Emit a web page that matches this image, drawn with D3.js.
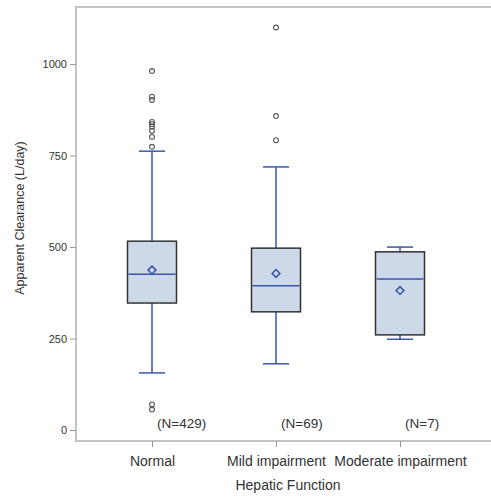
<!DOCTYPE html>
<html>
<head>
<meta charset="utf-8">
<script src="https://cdn.jsdelivr.net/npm/d3@7"></script>
<style>
  body { margin: 0; background: #fff; }
  svg { display: block; }
  svg text { font-family: "Liberation Sans", Arial, sans-serif; }
</style>
</head>
<body>
<div id="chart"></div>
<script>
// box plot summaries
const categories = ["Normal", "Mild impairment", "Moderate impairment"];
const q1 = [347, 323, 260];
const medians = [426, 394, 413];
const q3 = [516, 497, 487];
const whiskerLow = [156, 181, 248];
const whiskerHigh = [762, 719, 500];
const means = [437, 428, 381];
const outliers = [
    [981, 911, 902, 842, 836, 829, 818, 801, 774, 70, 56],
    [1100, 858, 792],
    []
];
const nLabels = ["(N=429)", "(N=69)", "(N=7)"];
const yTicks = [0, 250, 500, 750, 1000];

const width = 491, height = 497;
const plot = { left: 76, right: 500, top: 7, bottom: 441 };

const svg = d3.select("#chart").append("svg")
    .attr("width", width)
    .attr("height", height);

const x = d3.scalePoint()
    .domain(categories)
    .range([152, 400]);

const y = d3.scaleLinear()
    .domain([-30, 1156])
    .range([plot.bottom, plot.top]);

const blue = "#3a56a8";
const boxW = 49, capW = 26;

// frame (left, top, bottom)
svg.append("path")
    .attr("d", `M${plot.right},${plot.top}H${plot.left}V${plot.bottom}H${plot.right}`)
    .attr("fill", "none")
    .attr("stroke", "#b0b0b0")
    .attr("stroke-width", 1.5);

// y axis
const yAxis = svg.append("g")
    .attr("transform", `translate(${plot.left},0)`)
    .call(d3.axisLeft(y).tickValues(yTicks).tickFormat(d3.format("d")).tickSize(6).tickPadding(3))
    .attr("font-family", null);
yAxis.select(".domain").remove();
yAxis.selectAll("line").attr("stroke", "#999");
yAxis.selectAll("text").attr("fill", "#333").style("font-size", "11px");

// x axis
const xAxis = svg.append("g")
    .attr("transform", `translate(0,${plot.bottom})`)
    .call(d3.axisBottom(x).tickSize(6).tickPadding(9))
    .attr("font-family", null);
xAxis.select(".domain").remove();
xAxis.selectAll("line").attr("stroke", "#999");
xAxis.selectAll("text").attr("fill", "#333").style("font-size", "14px");

// axis titles
svg.append("text")
    .attr("x", 288)
    .attr("y", 490)
    .attr("text-anchor", "middle")
    .attr("fill", "#333")
    .style("font-size", "14px")
    .text("Hepatic Function");

svg.append("text")
    .attr("transform", "translate(24,218) rotate(-90)")
    .attr("text-anchor", "middle")
    .attr("fill", "#333")
    .style("font-size", "12.5px")
    .text("Apparent Clearance (L/day)");

const groups = svg.selectAll(".box")
    .data(categories)
    .join("g")
    .attr("class", "box");

groups.each(function(c, i) {
    const g = d3.select(this);
    const cx = x(c);

    // whiskers
    g.append("line")
        .attr("x1", cx).attr("x2", cx)
        .attr("y1", y(q3[i])).attr("y2", y(whiskerHigh[i]))
        .attr("stroke", blue).attr("stroke-width", 1.5);
    g.append("line")
        .attr("x1", cx).attr("x2", cx)
        .attr("y1", y(q1[i])).attr("y2", y(whiskerLow[i]))
        .attr("stroke", blue).attr("stroke-width", 1.5);
    [whiskerHigh[i], whiskerLow[i]].forEach(v => {
        g.append("line")
            .attr("x1", cx - capW / 2).attr("x2", cx + capW / 2)
            .attr("y1", y(v)).attr("y2", y(v))
            .attr("stroke", blue).attr("stroke-width", 1.5);
    });

    // box
    g.append("rect")
        .attr("x", cx - boxW / 2)
        .attr("y", y(q3[i]))
        .attr("width", boxW)
        .attr("height", y(q1[i]) - y(q3[i]))
        .attr("fill", "#cdd8e8")
        .attr("stroke", "#333")
        .attr("stroke-width", 1.5);

    // median
    g.append("line")
        .attr("x1", cx - boxW / 2 + 1).attr("x2", cx + boxW / 2 - 1)
        .attr("y1", y(medians[i])).attr("y2", y(medians[i]))
        .attr("stroke", blue).attr("stroke-width", 1.5);

    // mean diamond
    g.append("path")
        .attr("d", d3.symbol(d3.symbolDiamond2, 40)())
        .attr("transform", `translate(${cx},${y(means[i])})`)
        .attr("fill", "none")
        .attr("stroke", blue)
        .attr("stroke-width", 1.5);

    // outliers
    g.selectAll("circle")
        .data(outliers[i])
        .join("circle")
        .attr("cx", cx)
        .attr("cy", d => y(d))
        .attr("r", 2.4)
        .attr("fill", "none")
        .attr("stroke", "#555")
        .attr("stroke-width", 1.1);

    // N label
    g.append("text")
        .attr("x", cx + 5)
        .attr("y", 428)
        .attr("fill", "#333")
        .style("font-size", "13.5px")
        .text(nLabels[i]);
});
</script>
</body>
</html>
